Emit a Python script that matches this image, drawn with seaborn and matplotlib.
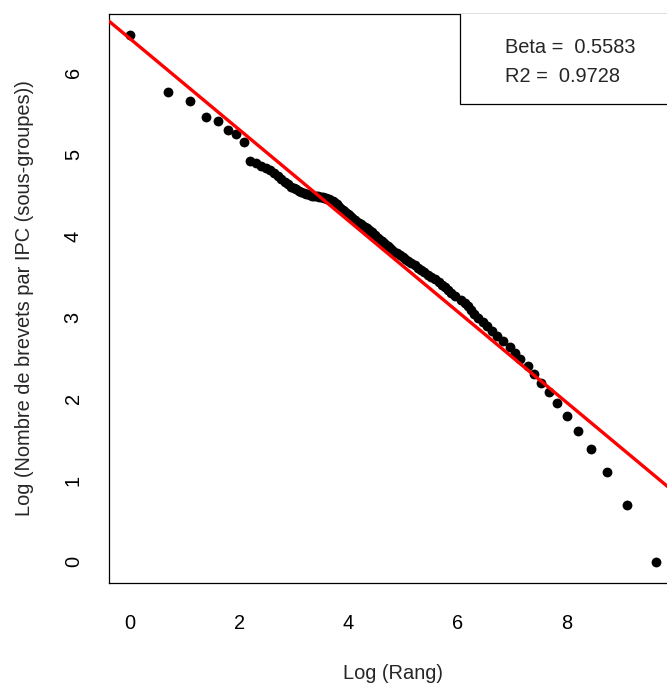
import numpy as np
import pandas as pd
import matplotlib
matplotlib.use("Agg")
import matplotlib.pyplot as plt
from matplotlib.patches import Rectangle
import seaborn as sns

# ---- data ----
# head of the distribution: one point per rank
top_rangs = [1, 2, 3, 4, 5, 6, 7, 8, 9, 10, 11, 12, 13, 14, 15, 16, 17, 18, 19, 20,
             21, 22, 23, 24, 25, 26, 27, 28, 29, 30, 31, 32, 33, 34, 35, 36, 37, 38, 39, 40,
             41, 42, 43, 44, 45, 46, 47, 48, 49, 50, 51, 52, 53, 54, 55, 56, 57, 58, 59, 60]
top_log_brevets = [6.47, 5.76, 5.65, 5.46, 5.41, 5.30, 5.25, 5.15, 4.92, 4.889,
                   4.862, 4.833, 4.806, 4.766, 4.729, 4.694, 4.662, 4.632, 4.605, 4.588,
                   4.571, 4.556, 4.542, 4.531, 4.520, 4.509, 4.499, 4.495, 4.492, 4.489,
                   4.486, 4.483, 4.479, 4.476, 4.470, 4.462, 4.455, 4.447, 4.440, 4.434,
                   4.427, 4.414, 4.400, 4.386, 4.373, 4.359, 4.347, 4.334, 4.322, 4.309,
                   4.297, 4.286, 4.274, 4.263, 4.252, 4.241, 4.230, 4.219, 4.209, 4.201]
# tail of the distribution: one point per distinct number of patents
tail_brevets = [66, 65, 64, 63, 62, 61, 60, 59, 58, 57, 56, 55, 54, 53, 52, 51, 50, 49,
                48, 47, 46, 45, 44, 43, 42, 41, 40, 39, 38, 37, 36, 35, 34, 33, 32, 31,
                30, 29, 28, 27, 26, 25, 24, 23, 22, 21, 20, 19, 18, 17, 16, 15, 14, 13,
                12, 11, 10, 9, 8, 7, 6, 5, 4, 3, 2, 1]
tail_log_rangs = [4.119, 4.156, 4.191, 4.229, 4.266, 4.304, 4.342, 4.368, 4.397, 4.425,
                  4.454, 4.483, 4.511, 4.542, 4.573, 4.606, 4.642, 4.678, 4.716, 4.754,
                  4.792, 4.835, 4.886, 4.937, 4.989, 5.042, 5.098, 5.153, 5.211, 5.271,
                  5.329, 5.391, 5.454, 5.516, 5.583, 5.652, 5.712, 5.767, 5.824, 5.882,
                  5.958, 6.055, 6.128, 6.181, 6.236, 6.297, 6.378, 6.463, 6.544, 6.629,
                  6.725, 6.832, 6.960, 7.051, 7.143, 7.284, 7.405, 7.522, 7.674, 7.826,
                  8.004, 8.20, 8.44, 8.73, 9.10, 9.63]

intercept = 6.42
beta = 0.5583
r2 = 0.9728

x_ticks = [0, 2, 4, 6, 8]
y_ticks = [0, 1, 2, 3, 4, 5, 6]

df = pd.DataFrame({
    "log_rang": np.concatenate([np.log(top_rangs), tail_log_rangs]),
    "log_brevets": np.concatenate([top_log_brevets, np.log(tail_brevets)]),
})

# ---- style ----
sns.set_style("white")
plt.rcParams["font.family"] = ["Liberation Sans", "DejaVu Sans"]
FS = 14.4

W, H = 667, 684
fig = plt.figure(figsize=(W / 100, H / 100), dpi=100)
L, R, T, B = 109, 677, 13.5, 583
ax = fig.add_axes([L / W, (H - B) / H, (R - L) / W, (B - T) / H])

sns.scatterplot(data=df, x="log_rang", y="log_brevets", ax=ax, color="black",
                s=50, linewidth=0, zorder=2, legend=False)
ax.axline((0, intercept), slope=-beta, color="#ff0000", lw=2.4, zorder=3)

ax.set_xlim(-0.385, 10.015)
ax.set_ylim(-0.259, 6.729)
ax.set_xticks(x_ticks)
ax.set_yticks(y_ticks)
ax.set_xticklabels([str(v) for v in x_ticks])
ax.set_yticklabels([str(v) for v in y_ticks])

for sp in ax.spines.values():
    sp.set_color("black")
    sp.set_linewidth(0.9)
    sp.set_visible(True)

ax.tick_params(axis="both", which="major", direction="out", length=9.1, width=0.9,
               color="black", labelsize=FS, labelcolor="black")
ax.tick_params(axis="x", pad=13.0)
ax.tick_params(axis="y", pad=9.8)
ax.tick_params(axis="y", labelrotation=90)
for lbl in ax.get_yticklabels():
    lbl.set_verticalalignment("center")
    lbl.set_horizontalalignment("right")

ax.set_xlabel("Log (Rang)", fontsize=FS, va="baseline", ha="center")
ax.xaxis.set_label_coords(0.5, (B - 679.3) / (B - T))
ax.set_ylabel("Log (Nombre de brevets par IPC (sous-groupes))", fontsize=FS,
              va="baseline", ha="center", rotation=90, rotation_mode="anchor")
ax.yaxis.set_label_coords((30 - L) / (R - L), 0.5)

# legend box (top right)
bx = (460.5 - L) / (R - L)
by = (B - 104) / (B - T)
ax.add_patch(Rectangle((bx, by), 1 - bx + 0.01, 1 - by + 0.01, transform=ax.transAxes,
                       facecolor="white", edgecolor="black", lw=0.9, zorder=4))
tx = (505 - L) / (R - L)
ax.text(tx, (B - 53.3) / (B - T), f"Beta =  {beta:.4f}", transform=ax.transAxes,
        fontsize=FS, ha="left", va="baseline", zorder=5)
ax.text(tx, (B - 81.7) / (B - T), f"R2 =  {r2:.4f}", transform=ax.transAxes,
        fontsize=FS, ha="left", va="baseline", zorder=5)

fig.savefig("out.png", dpi=100, facecolor="white")
